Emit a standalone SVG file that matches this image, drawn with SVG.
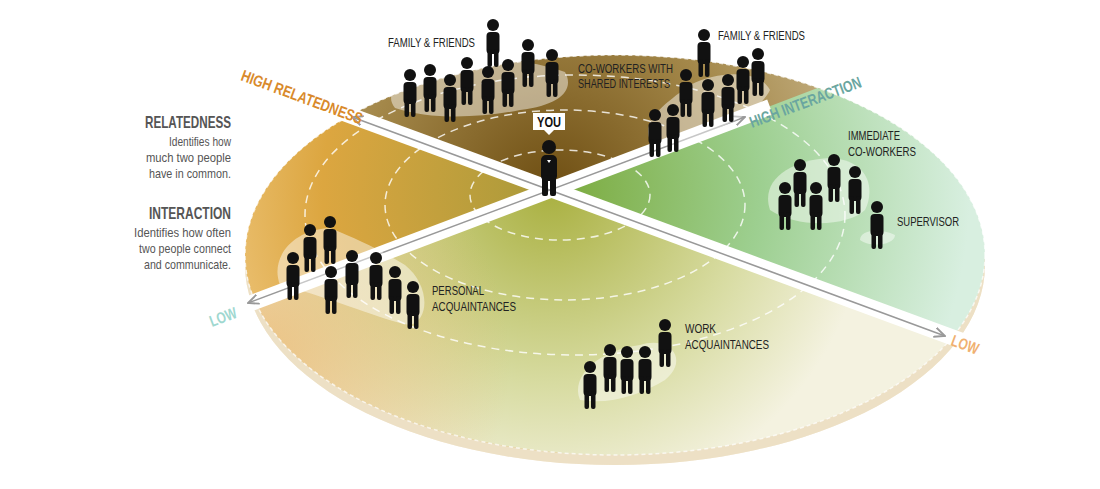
<svg xmlns="http://www.w3.org/2000/svg" xmlns:xlink="http://www.w3.org/1999/xlink" width="1100" height="489" viewBox="0 0 1100 489">
<style>
.t{font-family:"Liberation Sans",Arial,sans-serif;}
.lbl{font-size:13px;fill:#222;}
.h{font-size:17px;font-weight:bold;fill:#555;}
.d{font-size:13px;fill:#555;}
.ax{font-size:16px;font-weight:bold;}
.ring{fill:none;stroke:#fff;stroke-width:1.5;stroke-dasharray:8 6;opacity:.8}
.blob{fill:#fff;opacity:.45}
</style>
<defs>
<clipPath id="disk"><ellipse cx="615" cy="255" rx="370" ry="200"/></clipPath>
<radialGradient id="gTop" cx="550" cy="190" r="380" gradientUnits="userSpaceOnUse"><stop offset="0" stop-color="#6e4e12"/><stop offset=".5" stop-color="#a4884a"/><stop offset="1" stop-color="#d5c5a0"/></radialGradient>
<radialGradient id="gLeft" cx="550" cy="190" r="380" gradientUnits="userSpaceOnUse"><stop offset="0" stop-color="#a99a3a"/><stop offset=".6" stop-color="#dca640"/><stop offset="1" stop-color="#f2cc88"/></radialGradient>
<radialGradient id="gRight" cx="550" cy="190" r="420" gradientUnits="userSpaceOnUse"><stop offset="0" stop-color="#7aa93a"/><stop offset=".5" stop-color="#9dcf90"/><stop offset="1" stop-color="#d8efe0"/></radialGradient>
<radialGradient id="gBot" cx="550" cy="190" r="320" gradientUnits="userSpaceOnUse"><stop offset="0" stop-color="#a9b040"/><stop offset=".6" stop-color="#d7dba0"/><stop offset="1" stop-color="#f4f2e0"/></radialGradient>
<radialGradient id="gBotL" cx="250" cy="360" r="260" gradientUnits="userSpaceOnUse"><stop offset="0" stop-color="#e8b060" stop-opacity=".75"/><stop offset="1" stop-color="#e8b060" stop-opacity="0"/></radialGradient>
<symbol id="p" viewBox="-8 -8 16 52" width="16" height="52" overflow="visible">
<circle cx="0" cy="0" r="6" fill="#111"/>
<rect x="-6.5" y="7" width="13" height="22" rx="4" fill="#111"/>
<rect x="-5.5" y="24" width="4.5" height="18" rx="2" fill="#111"/>
<rect x="1" y="24" width="4.5" height="18" rx="2" fill="#111"/>
</symbol>
<marker id="ar" viewBox="0 0 10 10" refX="9" refY="5" markerWidth="8" markerHeight="8" orient="auto-start-reverse"><path d="M0 1 L9 5 L0 9" fill="none" stroke="#999" stroke-width="1.5"/></marker>
</defs>
<rect width="1100" height="489" fill="#fff"/>
<g id="disc">
<ellipse cx="615" cy="265" rx="370" ry="200" fill="#f3e6cc"/>
<g clip-path="url(#disk)">
<polygon points="550,190 130,30 1100,30 760,110" fill="url(#gTop)"/>
<polygon points="550,190 130,30 0,350 245,500 560,500" fill="url(#gLeft)"/>
<polygon points="550,190 760,110 1100,-20 1100,500 950,340" fill="url(#gRight)"/>
<polygon points="550,190 950,340 1100,500 200,500 230,310" fill="url(#gBot)"/>
<polygon points="550,190 700,500 200,500 230,310" fill="url(#gBotL)"/>
<ellipse class="ring" cx="560" cy="195" rx="90" ry="45"/>
<ellipse class="ring" cx="565" cy="205" rx="180" ry="95"/>
<ellipse class="ring" cx="575" cy="215" rx="270" ry="140"/>
</g>
<path d="M245 255 A370 200 0 0 0 985 255 L985 265 A370 200 0 0 1 245 265Z" fill="#e9dcc0" opacity=".6"/>
<ellipse cx="615" cy="255" rx="370" ry="200" fill="none" stroke="#fff" stroke-width="1.5" stroke-dasharray="4 3" opacity=".7"/>
</g>
<g id="connectors">
<line x1="225" y1="313" x2="770" y2="107" stroke="#fff" stroke-width="16"/>
<line x1="330" y1="108" x2="965" y2="342" stroke="#fff" stroke-width="16"/>
<line x1="248" y1="303" x2="745" y2="117" stroke="#999" stroke-width="1.5" marker-start="url(#ar)" marker-end="url(#ar)"/>
<line x1="352" y1="117" x2="945" y2="336" stroke="#999" stroke-width="1.5" marker-start="url(#ar)" marker-end="url(#ar)"/>
</g>
<g id="blobs">
<path class="blob" d="M395 108 C380 90 410 70 450 70 C490 55 530 60 565 72 C575 90 560 105 520 110 C480 118 430 120 395 108Z"/>
<path class="blob" d="M650 140 C640 120 670 100 690 85 C720 70 760 70 770 90 C760 110 730 125 700 135 C680 145 660 150 650 140Z"/>
<path class="blob" d="M770 210 C760 180 790 160 830 158 C870 160 875 190 865 210 C850 225 800 230 770 210Z"/>
<path class="blob" d="M860 240 C860 230 880 228 895 235 C895 245 870 248 860 240Z"/>
<path class="blob" d="M280 285 C270 260 290 230 330 228 C360 240 380 250 405 265 C430 285 430 320 410 325 C380 320 340 300 280 285Z"/>
<path class="blob" d="M580 400 C570 375 600 350 640 345 C670 335 690 360 665 380 C640 395 610 405 580 400Z"/>
</g>
<g id="people">
<use href="#p" x="485" y="17"/><use href="#p" x="520" y="37"/><use href="#p" x="544" y="47"/>
<use href="#p" x="459" y="55"/><use href="#p" x="402" y="67"/><use href="#p" x="422" y="62"/>
<use href="#p" x="442" y="72"/><use href="#p" x="480" y="64"/><use href="#p" x="500" y="57"/>
<use href="#p" x="696" y="27"/><use href="#p" x="735" y="54"/><use href="#p" x="750" y="46"/>
<use href="#p" x="720" y="72"/><use href="#p" x="700" y="77"/><use href="#p" x="678" y="67"/>
<use href="#p" x="665" y="102"/><use href="#p" x="647" y="107"/>
<use href="#p" x="792" y="157"/><use href="#p" x="826" y="152"/><use href="#p" x="847" y="164"/>
<use href="#p" x="777" y="180"/><use href="#p" x="808" y="180"/><use href="#p" x="869" y="199"/>
<use href="#p" x="322" y="214"/><use href="#p" x="302" y="222"/><use href="#p" x="285" y="250"/>
<use href="#p" x="323" y="264"/><use href="#p" x="344" y="248"/><use href="#p" x="368" y="250"/>
<use href="#p" x="387" y="264"/><use href="#p" x="405" y="279"/>
<use href="#p" x="657" y="317"/><use href="#p" x="602" y="342"/><use href="#p" x="619" y="344"/>
<use href="#p" x="637" y="344"/><use href="#p" x="582" y="359"/>
</g>
<g id="you">
<circle cx="549" cy="147" r="7" fill="#111"/>
<rect x="541" y="155" width="16" height="26" rx="5" fill="#111"/>
<rect x="542" y="175" width="6" height="21" rx="2" fill="#111"/>
<rect x="550" y="175" width="6" height="21" rx="2" fill="#111"/>
<path d="M547 160 l2 3 l2 -3" fill="#fff"/>
<path d="M533 113 h32 v17 h-11 l-5 5 l-5 -5 h-11z" fill="#fff"/>
<text class="t" x="549" y="127" text-anchor="middle" font-size="14" font-weight="bold" fill="#111" textLength="24" lengthAdjust="spacingAndGlyphs">YOU</text>
</g>
<g id="labels" class="t">
<text class="lbl" x="388" y="47" textLength="87" lengthAdjust="spacingAndGlyphs">FAMILY &amp; FRIENDS</text>
<text class="lbl" x="718" y="40" textLength="87" lengthAdjust="spacingAndGlyphs">FAMILY &amp; FRIENDS</text>
<text class="lbl" x="578" y="73" textLength="95" lengthAdjust="spacingAndGlyphs">CO-WORKERS WITH</text>
<text class="lbl" x="578" y="88" textLength="92" lengthAdjust="spacingAndGlyphs">SHARED INTERESTS</text>
<text class="lbl" x="848" y="140" textLength="52" lengthAdjust="spacingAndGlyphs">IMMEDIATE</text>
<text class="lbl" x="848" y="156" textLength="68" lengthAdjust="spacingAndGlyphs">CO-WORKERS</text>
<text class="lbl" x="897" y="226" textLength="62" lengthAdjust="spacingAndGlyphs">SUPERVISOR</text>
<text class="lbl" x="432" y="295" textLength="52" lengthAdjust="spacingAndGlyphs">PERSONAL</text>
<text class="lbl" x="432" y="311" textLength="84" lengthAdjust="spacingAndGlyphs">ACQUAINTANCES</text>
<text class="lbl" x="685" y="333" textLength="31" lengthAdjust="spacingAndGlyphs">WORK</text>
<text class="lbl" x="685" y="349" textLength="84" lengthAdjust="spacingAndGlyphs">ACQUAINTANCES</text>
<text class="h" x="145" y="128" textLength="86" lengthAdjust="spacingAndGlyphs">RELATEDNESS</text>
<text class="d" x="169" y="146" textLength="62" lengthAdjust="spacingAndGlyphs">Identifies how</text>
<text class="d" x="146" y="162" textLength="85" lengthAdjust="spacingAndGlyphs">much two people</text>
<text class="d" x="149" y="178" textLength="82" lengthAdjust="spacingAndGlyphs">have in common.</text>
<text class="h" x="149" y="219" textLength="82" lengthAdjust="spacingAndGlyphs">INTERACTION</text>
<text class="d" x="134" y="237" textLength="97" lengthAdjust="spacingAndGlyphs">Identifies how often</text>
<text class="d" x="139" y="253" textLength="92" lengthAdjust="spacingAndGlyphs">two people connect</text>
<text class="d" x="144" y="269" textLength="87" lengthAdjust="spacingAndGlyphs">and communicate.</text>
<text class="ax" fill="#d98a2b" transform="translate(240,80) rotate(20.3)" textLength="128" lengthAdjust="spacingAndGlyphs">HIGH RELATEDNESS</text>
<text class="ax" fill="#6aa6a0" transform="translate(752,128) rotate(-20.5)" textLength="118" lengthAdjust="spacingAndGlyphs">HIGH INTERACTION</text>
<text class="ax" fill="#9fd8d0" transform="translate(212,327) rotate(-20.5)" textLength="28" lengthAdjust="spacingAndGlyphs">LOW</text>
<text class="ax" fill="#f0b070" transform="translate(950,345) rotate(20.3)" textLength="28" lengthAdjust="spacingAndGlyphs">LOW</text>
</g>
</svg>
